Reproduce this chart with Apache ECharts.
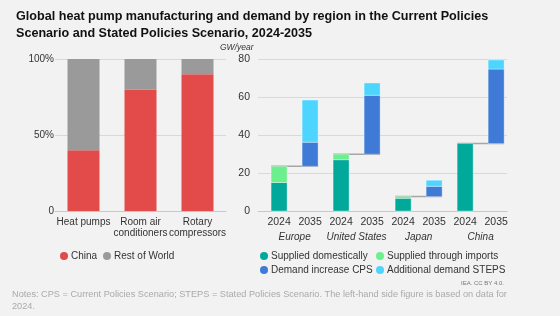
<!DOCTYPE html>
<html>
<head>
    <meta charset="utf-8">
    <title>Heat pumps</title>
    <script src="https://cdn.jsdelivr.net/npm/echarts@6/dist/echarts.min.js"></script>
    <style>
        html, body, #main {
            width: 100%;
            height: 100%;
            margin: 0;
            background: #f2f2f2;
        }
    </style>
</head>
<body>
    <div id="main"></div>
    <script type="text/javascript">
        // left: manufacturing share, 2024
        var products = ['Heat pumps', 'Room air\nconditioners', 'Rotary\ncompressors'];
        var chinaShare = [40, 80, 90];
        var restShare = [60, 20, 10];

        // right: GW/year by region
        var regions = ['Europe', 'United States', 'Japan', 'China'];
        var years = ['2024', '2035'];
        var domestic2024 = [15, 27, 6.7, 35.5];
        var imports2024 = [8.5, 2.9, 0.9, 0];
        var cpsIncrease = [12.7, 31, 5.4, 39.2];
        var stepsExtra = [22.2, 6.5, 3.2, 4.8];

        var font = 'Liberation Sans, Arial, sans-serif';
        var txt = '#333';
        var grid = '#d9d9d9';

        // build segments [x, from, to]
        var segDom = [], segImp = [], segCps = [], segSteps = [], links = [];
        for (var i = 0; i < regions.length; i++) {
            var x0 = i * 2, x1 = i * 2 + 1;
            var total = domestic2024[i] + imports2024[i];
            segDom.push([x0, 0, domestic2024[i]]);
            segImp.push([x0, domestic2024[i], total]);
            segCps.push([x1, total, total + cpsIncrease[i]]);
            segSteps.push([x1, total + cpsIncrease[i], total + cpsIncrease[i] + stepsExtra[i]]);
            links.push([x0, x1, total]);
        }

        function renderSeg(params, api) {
            var x = api.value(0);
            var a = api.coord([x, api.value(1)]);
            var b = api.coord([x, api.value(2)]);
            if (a[1] - b[1] <= 0) return null;
            return {
                type: 'rect',
                shape: { x: a[0] - 8, y: b[1], width: 16, height: a[1] - b[1] },
                style: api.style({ stroke: 'rgba(255,255,255,0.35)', lineWidth: 1 })
            };
        }

        function renderLink(params, api) {
            var a = api.coord([api.value(0), api.value(2)]);
            var b = api.coord([api.value(1), api.value(2)]);
            return {
                type: 'line',
                shape: { x1: a[0] - 8, y1: a[1], x2: b[0] + 8, y2: b[1] },
                style: { stroke: '#a6a6a6', lineWidth: 1.5 }
            };
        }

        function segSeries(name, data, color) {
            return {
                name: name,
                type: 'custom',
                xAxisIndex: 1,
                yAxisIndex: 1,
                renderItem: renderSeg,
                encode: { x: 0, y: [1, 2] },
                itemStyle: { color: color },
                data: data,
                z: 3
            };
        }

        var legendBase = {
            icon: 'circle',
            itemWidth: 8,
            itemHeight: 8,
            itemGap: 8,
            textStyle: { color: txt, fontSize: 10, fontFamily: font, padding: [0, 0, 0, -2] },
            selectedMode: false
        };
        function legendAt(names, left, top) {
            return Object.assign({}, legendBase, { data: names, left: left, top: top });
        }

        var myChart = echarts.init(document.getElementById('main'));
        var option = {
            animation: false,
            backgroundColor: '#f2f2f2',
            title: {
                text: 'Global heat pump manufacturing and demand by region in the Current Policies\nScenario and Stated Policies Scenario, 2024-2035',
                left: 11,
                top: 3,
                textStyle: { fontSize: 12.6, fontWeight: 'bold', color: '#111', fontFamily: font, lineHeight: 17 }
            },
            legend: [
                legendAt(['China'], 55, 246),
                legendAt(['Rest of World'], 98, 246),
                legendAt(['Supplied domestically'], 255, 246),
                legendAt(['Supplied through imports'], 371, 246),
                legendAt(['Demand increase CPS'], 255, 260),
                legendAt(['Additional demand STEPS'], 371, 260)
            ],
            grid: [
                { left: 55, right: 334, top: 59, bottom: 105 },
                { left: 258, right: 53, top: 59, bottom: 105 }
            ],
            xAxis: [
                {
                    type: 'category',
                    gridIndex: 0,
                    data: products,
                    axisLine: { lineStyle: { color: '#c8c8c8' } },
                    axisTick: { show: false },
                    axisLabel: { color: txt, fontSize: 10, fontFamily: font, margin: 6, lineHeight: 11, interval: 0 }
                },
                {
                    type: 'value',
                    gridIndex: 1,
                    min: -0.68,
                    max: 7.35,
                    splitLine: { show: false },
                    axisLine: { show: true, onZero: false, lineStyle: { color: '#c8c8c8' } },
                    axisTick: { show: false },
                    axisLabel: {
                        color: txt, fontSize: 10.5, fontFamily: font, margin: 6,
                        customValues: [0, 1, 2, 3, 4, 5, 6, 7],
                        formatter: function (v) { return years[Math.round(v) % 2]; }
                    }
                },
                {
                    type: 'value',
                    gridIndex: 1,
                    min: -0.68,
                    max: 7.35,
                    position: 'bottom',
                    offset: 15,
                    splitLine: { show: false },
                    axisLine: { show: false, onZero: false },
                    axisTick: { show: false },
                    axisLabel: {
                        color: txt, fontSize: 10, fontFamily: font, fontStyle: 'italic', margin: 6,
                        customValues: [0.5, 2.5, 4.5, 6.5],
                        formatter: function (v) { return regions[Math.round((v - 0.5) / 2)]; }
                    }
                }
            ],
            yAxis: [
                {
                    type: 'value',
                    gridIndex: 0,
                    min: 0,
                    max: 100,
                    interval: 50,
                    axisLine: { show: false },
                    axisTick: { show: false },
                    splitLine: { lineStyle: { color: grid } },
                    axisLabel: {
                        color: txt, fontSize: 10, fontFamily: font, margin: 1,
                        formatter: function (v) { return v === 0 ? '0' : v + '%'; }
                    }
                },
                {
                    type: 'value',
                    gridIndex: 1,
                    min: 0,
                    max: 80,
                    interval: 20,
                    axisLine: { show: false, onZero: false },
                    axisTick: { show: false },
                    splitLine: { lineStyle: { color: grid } },
                    axisLabel: { color: txt, fontSize: 10.5, fontFamily: font, margin: 8 }
                }
            ],
            graphic: [
                {
                    type: 'text', left: 220, top: 43,
                    style: { text: 'GW/year', fontSize: 8.5, fontStyle: 'italic', fill: txt, fontFamily: font }
                },
                {
                    type: 'text', right: 56, top: 280,
                    style: { text: 'IEA. CC BY 4.0.', fontSize: 6, fill: '#777', fontFamily: font }
                },
                {
                    type: 'text', left: 12, top: 288,
                    style: {
                        text: 'Notes: CPS = Current Policies Scenario; STEPS = Stated Policies Scenario. The left-hand side figure is based on data for\n2024.',
                        fontSize: 9.2, lineHeight: 12, fill: '#aaaaaa', fontFamily: font
                    }
                }
            ],
            series: [
                {
                    name: 'China', type: 'bar', stack: 'share', xAxisIndex: 0, yAxisIndex: 0,
                    barWidth: 32, itemStyle: { color: '#e34b4b' }, data: chinaShare
                },
                {
                    name: 'Rest of World', type: 'bar', stack: 'share', xAxisIndex: 0, yAxisIndex: 0,
                    barWidth: 32, itemStyle: { color: '#9a9a9a' }, data: restShare
                },
                {
                    name: 'links', type: 'custom', xAxisIndex: 1, yAxisIndex: 1,
                    renderItem: renderLink, encode: { x: [0, 1], y: 2 }, data: links, z: 2, silent: true
                },
                segSeries('Supplied domestically', segDom, '#00a99a'),
                segSeries('Supplied through imports', segImp, '#6cef8d'),
                segSeries('Demand increase CPS', segCps, '#3f7bd6'),
                segSeries('Additional demand STEPS', segSteps, '#4dd5ff')
            ]
        };
        if (option && typeof option === "object") {
            myChart.setOption(option, true);
        }
    </script>
</body>
</html>
